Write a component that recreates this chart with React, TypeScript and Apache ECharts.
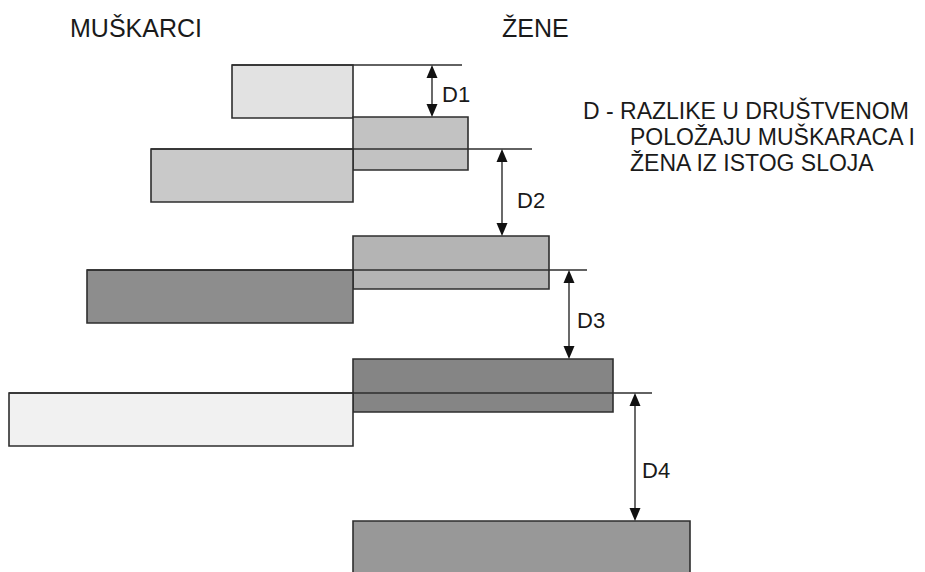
import React, { useEffect, useRef } from 'react';
import * as echarts from 'echarts';

// Social strata (1 = highest)
const strata = ['1', '2', '3', '4'];
// Men's bars extend left from the centre line (value axis units)
const menLeft = [-24.2, -40.4, -53.2, -68.8];
// Social position (top edge) of men's bars, measured downward
const menTop = [13, 29.8, 54, 78.6];
// Women's bars extend right from the centre line
const womenRight = [23, 39.2, 52, 67.4];
// Social position (top edge) of women's bars
const womenTop = [23.4, 47.2, 71.8, 104.2];
// Difference annotations
const gapLabels = ['D1', 'D2', 'D3', 'D4'];
const gapArrowX = [15.8, 29.8, 43.2, 56.4];
const gapLineEnd = [21.8, 35.8, 46.8, 59.8];
const gapLabelX = [17.8, 32.8, 44.8, 57.8];
const gapLabelY = [18.8, 40, 64, 94];

const BAR_THICKNESS = 10.6;
const X_MIN = -70.6;
const X_MAX = 114.4;
const Y_MAX = 114.4;

const menFill = ['#e2e2e2', '#c9c9c9', '#8d8d8d', '#f1f1f1'];
const womenFill = ['#c2c2c2', '#b4b4b4', '#858585', '#989898'];
const FONT = '"Liberation Sans", Arial, Helvetica, sans-serif';
const INK = '#1a1a1a';

export default function App() {
  const ref = useRef<HTMLDivElement>(null);

  useEffect(() => {
    document.body.style.margin = '0';
    if (!ref.current) return;
    const chart = echarts.init(ref.current, null, { renderer: 'svg' });

    const barData: any[] = [];
    const barFills: string[] = [];
    strata.forEach((_, i) => {
      barData.push([menLeft[i], 0, menTop[i]]);
      barFills.push(menFill[i]);
      barData.push([0, womenRight[i], womenTop[i]]);
      barFills.push(womenFill[i]);
    });

    const lineData = strata.map((_, i) => [menLeft[i], gapLineEnd[i], menTop[i]]);
    const arrowData = strata.map((_, i) => [gapArrowX[i], menTop[i], womenTop[i], gapLabelX[i], gapLabelY[i]]);

    const option: any = {
      animation: false,
      grid: { left: 0, right: 0, top: 0, bottom: 0 },
      xAxis: { type: 'value', min: X_MIN, max: X_MAX, show: false },
      yAxis: { type: 'value', min: 0, max: Y_MAX, inverse: true, show: false },
      graphic: [
        { type: 'text', x: 70, y: 28, style: { text: 'MUŠKARCI', fontSize: 25, fontFamily: FONT, fill: INK, align: 'left', verticalAlign: 'middle' } },
        { type: 'text', x: 502, y: 28, style: { text: 'ŽENE', fontSize: 25, fontFamily: FONT, fill: INK, align: 'left', verticalAlign: 'middle' } },
        { type: 'text', x: 583, y: 111, style: { text: 'D - RAZLIKE U DRUŠTVENOM', fontSize: 23, fontFamily: FONT, fill: INK, align: 'left', verticalAlign: 'middle' } },
        { type: 'text', x: 630, y: 137, style: { text: 'POLOŽAJU MUŠKARACA I', fontSize: 23, fontFamily: FONT, fill: INK, align: 'left', verticalAlign: 'middle' } },
        { type: 'text', x: 630, y: 163, style: { text: 'ŽENA IZ ISTOG SLOJA', fontSize: 23, fontFamily: FONT, fill: INK, align: 'left', verticalAlign: 'middle' } },
      ],
      series: [
        {
          type: 'custom',
          name: 'bars',
          data: barData,
          silent: true,
          renderItem: (params: any, api: any) => {
            const x0 = api.value(0);
            const x1 = api.value(1);
            const y0 = api.value(2);
            const p0 = api.coord([x0, y0]);
            const p1 = api.coord([x1, y0 + BAR_THICKNESS]);
            return {
              type: 'rect',
              shape: {
                x: Math.min(p0[0], p1[0]),
                y: Math.min(p0[1], p1[1]),
                width: Math.abs(p1[0] - p0[0]),
                height: Math.abs(p1[1] - p0[1]),
              },
              style: { fill: barFills[params.dataIndex], stroke: '#2e2e2e', lineWidth: 1.6 },
            };
          },
        },
        {
          type: 'custom',
          name: 'lines',
          data: lineData,
          silent: true,
          renderItem: (_params: any, api: any) => {
            const p0 = api.coord([api.value(0), api.value(2)]);
            const p1 = api.coord([api.value(1), api.value(2)]);
            return {
              type: 'line',
              shape: { x1: p0[0], y1: p0[1], x2: p1[0], y2: p1[1] },
              style: { stroke: '#2e2e2e', lineWidth: 1.3 },
            };
          },
        },
        {
          type: 'custom',
          name: 'arrows',
          data: arrowData,
          silent: true,
          renderItem: (params: any, api: any) => {
            const a = api.coord([api.value(0), api.value(1)]);
            const b = api.coord([api.value(0), api.value(2)]);
            const l = api.coord([api.value(3), api.value(4)]);
            const x = a[0];
            const hw = 5.5;
            const hh = 13;
            return {
              type: 'group',
              children: [
                { type: 'line', shape: { x1: x, y1: a[1] + hh - 1, x2: x, y2: b[1] - hh + 1 }, style: { stroke: '#1a1a1a', lineWidth: 1.3 } },
                { type: 'polygon', shape: { points: [[x, a[1]], [x - hw, a[1] + hh], [x + hw, a[1] + hh]] }, style: { fill: '#111' } },
                { type: 'polygon', shape: { points: [[x, b[1]], [x - hw, b[1] - hh], [x + hw, b[1] - hh]] }, style: { fill: '#111' } },
                { type: 'text', x: l[0], y: l[1], style: { text: gapLabels[params.dataIndex], fontSize: 22, fontFamily: FONT, fill: INK, align: 'left', verticalAlign: 'middle' } },
              ],
            };
          },
        },
      ],
    };

    chart.setOption(option);
    return () => chart.dispose();
  }, []);

  return <div ref={ref} style={{ width: 925, height: 572 }} />;
}
